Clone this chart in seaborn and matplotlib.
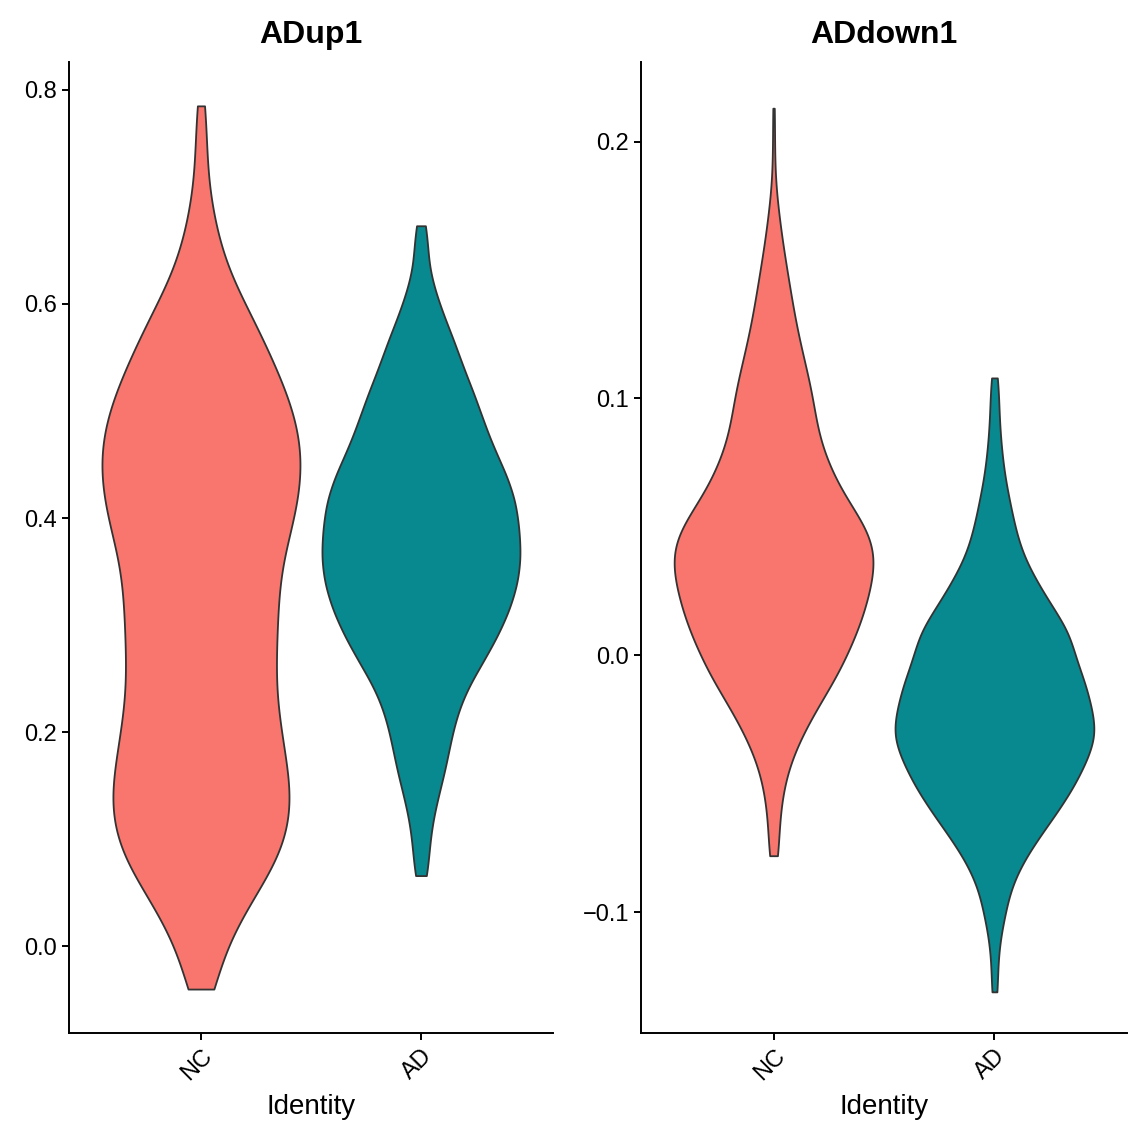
import numpy as np
import pandas as pd
import matplotlib
matplotlib.use("Agg")
import matplotlib.pyplot as plt
import seaborn as sns

idents = ["NC", "AD"]
colors = {"NC": "#F8766D", "AD": "#07898F"}

# ADup1 module score: score levels and number of cells at each level
adup_nc_levels = [-0.04, -0.015, 0.01, 0.035, 0.06, 0.085, 0.11, 0.135, 0.16, 0.185,
                  0.21, 0.235, 0.26, 0.285, 0.31, 0.335, 0.36, 0.385, 0.41, 0.435,
                  0.46, 0.485, 0.51, 0.535, 0.56, 0.585, 0.61, 0.635, 0.66, 0.685,
                  0.71, 0.735, 0.76, 0.785]
adup_nc_counts = [16, 18, 30, 44, 62, 78, 86, 89, 86, 81,
                  77, 73, 73, 74, 75, 76, 79, 87, 94, 98,
                  99, 95, 87, 76, 64, 52, 37, 25, 17, 12,
                  7, 6, 5, 5]
adup_ad_levels = [0.066, 0.09, 0.115, 0.14, 0.165, 0.19, 0.215, 0.24, 0.265, 0.29,
                  0.315, 0.34, 0.365, 0.39, 0.415, 0.44, 0.465, 0.49, 0.515, 0.54,
                  0.565, 0.59, 0.615, 0.64, 0.657, 0.673]
adup_ad_counts = [6, 8, 11, 17, 24, 29, 35, 45, 61, 76,
                  88, 96, 99, 97, 94, 85, 72, 62, 53, 42,
                  33, 22, 13, 6, 4, 4]

# ADdown1 module score
addown_nc_levels = [-0.078, -0.068, -0.058, -0.048, -0.038, -0.028, -0.018, -0.008, 0.002, 0.012,
                    0.022, 0.032, 0.042, 0.052, 0.062, 0.072, 0.082, 0.092, 0.102, 0.112,
                    0.122, 0.132, 0.142, 0.152, 0.162, 0.172, 0.182, 0.192, 0.202, 0.213]
addown_nc_counts = [5, 5, 7, 11, 19, 31, 45, 61, 72, 83,
                    90, 96, 98, 86, 67, 55, 45, 40, 37, 31,
                    25, 20, 16, 12, 8, 5, 2, 1, 1, 1]
addown_ad_levels = [-0.131, -0.121, -0.111, -0.101, -0.091, -0.081, -0.071, -0.061, -0.051, -0.041,
                    -0.031, -0.021, -0.011, -0.001, 0.009, 0.019, 0.029, 0.039, 0.049, 0.059,
                    0.069, 0.079, 0.089, 0.099, 0.108]
addown_ad_counts = [3, 3, 5, 10, 15, 26, 42, 60, 76, 88,
                    98, 93, 87, 77, 72, 55, 40, 27, 20, 15,
                    10, 7, 5, 4, 3]


def make_df(nc_levels, nc_counts, ad_levels, ad_counts):
    nc = np.repeat(nc_levels, nc_counts)
    ad = np.repeat(ad_levels, ad_counts)
    return pd.DataFrame({
        "ident": ["NC"] * len(nc) + ["AD"] * len(ad),
        "score": np.concatenate([nc, ad]),
    })


df_up = make_df(adup_nc_levels, adup_nc_counts, adup_ad_levels, adup_ad_counts)
df_down = make_df(addown_nc_levels, addown_nc_counts, addown_ad_levels, addown_ad_counts)

sns.set_theme(style="ticks")
plt.rcParams["font.family"] = ["Liberation Sans", "DejaVu Sans"]
plt.rcParams["text.color"] = "black"
plt.rcParams["axes.labelcolor"] = "black"

fig = plt.figure(figsize=(11.38, 11.39), dpi=100)
ax1 = fig.add_axes([0.0606, 0.0931, 0.4253, 0.8525])
ax2 = fig.add_axes([0.5633, 0.0931, 0.4270, 0.8525])

panels = [
    (ax1, df_up, "ADup1", 0.15, (-0.081, 0.826), [0.0, 0.2, 0.4, 0.6, 0.8]),
    (ax2, df_down, "ADdown1", 0.18, (-0.147, 0.231), [-0.1, 0.0, 0.1, 0.2]),
]

for ax, df, title, bw, ylim, yticks in panels:
    sns.violinplot(
        data=df, x="ident", y="score", hue="ident",
        order=idents, hue_order=idents, palette=colors,
        cut=0, density_norm="width", inner=None, width=0.9,
        bw_method=bw, gridsize=500, saturation=1,
        linewidth=1.3, linecolor="#333333", legend=False, ax=ax,
    )
    ax.set_xlim(-0.6, 1.6)
    ax.set_ylim(*ylim)
    ax.set_yticks(yticks)
    ax.set_yticklabels([f"{t:.1f}".replace("-", "\u2212") for t in yticks])
    ax.set_title(title, fontsize=23, fontweight="bold", pad=14, color="black")
    ax.set_xlabel("Identity", fontsize=20, labelpad=7, color="black")
    ax.set_ylabel("")
    ax.tick_params(labelsize=17, length=5, width=1.4, color="black", labelcolor="black")
    plt.setp(ax.get_xticklabels(), rotation=45, ha="right", rotation_mode="anchor")
    sns.despine(ax=ax)
    for s in ["left", "bottom"]:
        ax.spines[s].set_linewidth(1.4)
        ax.spines[s].set_color("black")

fig.savefig("out.png", dpi=100)
